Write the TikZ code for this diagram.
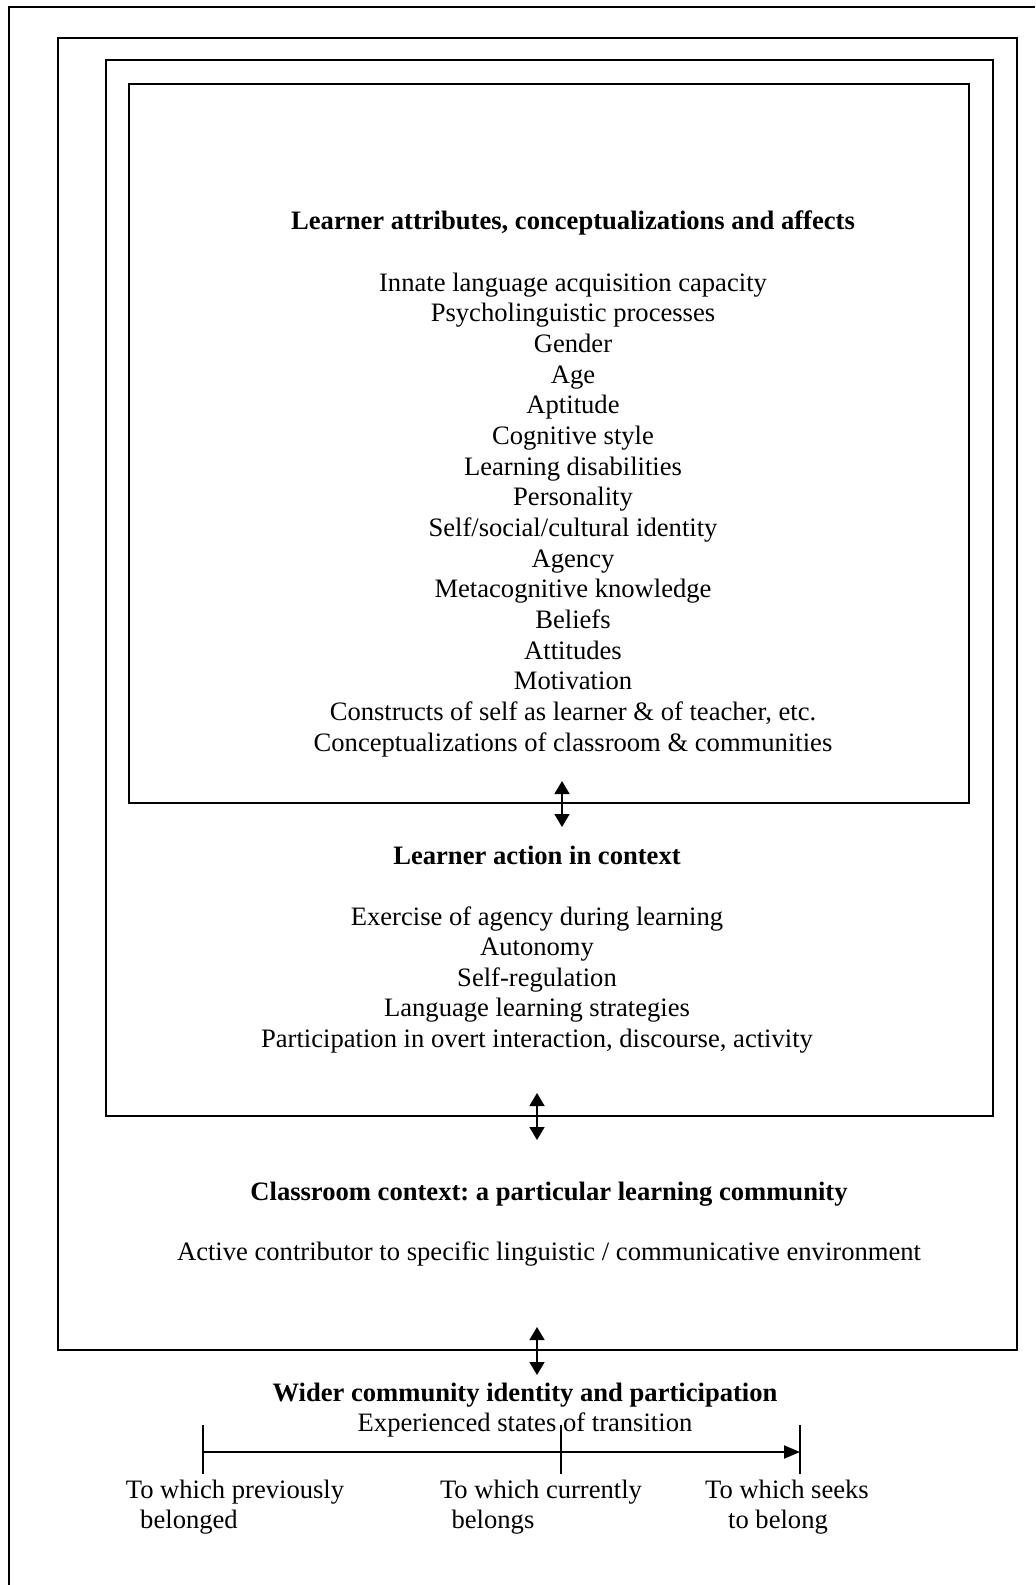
\documentclass[tikz,border=0pt]{standalone}
\usepackage{fontspec}
\setmainfont{Liberation Serif}
\frenchspacing
\usetikzlibrary{arrows.meta}
\begin{document}
\begin{tikzpicture}[x=0.5pt,y=-0.5pt,
  frame/.style={line width=1pt},
  txt/.style={inner sep=0pt,anchor=base,font=\fontsize{13.3pt}{15.3pt}\selectfont},
  head/.style={txt,font=\fontsize{13.3pt}{15.3pt}\selectfont\bfseries},
  dbl/.style={line width=0.8pt,{Triangle[width=7.5pt,length=6.5pt]}-{Triangle[width=7.5pt,length=6.5pt]}},
  tick/.style={line width=0.6pt},
  axis/.style={line width=1pt,-{Triangle[width=6.5pt,length=8pt]}}]
\useasboundingbox (0,0) rectangle (1035,1585);
\fill[white] (0,0) rectangle (1035,1585);

% nested frames
\draw[frame] (9,1585) -- (9,7) -- (1035,7);
\draw[frame] (58,38) rectangle (1017,1350);
\draw[frame] (106,60) rectangle (993,1116);
\draw[frame] (129,84) rectangle (969,803);

% innermost box: attributes
\node[head] (attrT) at (573,229) {Learner attributes, conceptualizations and affects};
\foreach \t [count=\i from 0] in {Innate language acquisition capacity,Psycholinguistic processes,Gender,Age,Aptitude,Cognitive style,Learning disabilities,Personality,Self/social/cultural identity,Agency,Metacognitive knowledge,Beliefs,Attitudes,Motivation,Constructs of self as learner \& of teacher{,} etc.,Conceptualizations of classroom \& communities}
  \node[txt] (attr\i) at (573,291+30.67*\i) {\t};

% learner action
\node[head] (actT) at (537,864) {Learner action in context};
\foreach \t [count=\i from 0] in {Exercise of agency during learning,Autonomy,Self-regulation,Language learning strategies,{Participation in overt interaction, discourse, activity}}
  \node[txt] (act\i) at (537,925+30.5*\i) {\t};

% classroom context
\node[head] (clsT) at (549,1200) {Classroom context: a particular learning community};
\node[txt] (cls0) at (549,1260) {Active contributor to specific linguistic / communicative environment};

% wider community
\node[head] (widT) at (525,1401) {Wider community identity and participation};
\node[txt] (wid0) at (525,1431) {Experienced states of transition};

% links between levels
\coordinate (l1a) at (562,781); \coordinate (l1b) at (562,827);
\coordinate (l2a) at (537,1093); \coordinate (l2b) at (537,1140);
\coordinate (l3a) at (537,1327); \coordinate (l3b) at (537,1375);
\draw[dbl] (l1a) -- (l1b);
\draw[dbl] (l2a) -- (l2b);
\draw[dbl] (l3a) -- (l3b);

% transition scale
\coordinate (p0a) at (203,1425); \coordinate (p0b) at (203,1474);
\coordinate (p1a) at (561,1425); \coordinate (p1b) at (561,1474);
\coordinate (p2a) at (800,1425); \coordinate (p2b) at (800,1474);
\coordinate (s0) at (203,1452); \coordinate (s2) at (800,1452);
\draw[tick] (p0a) -- (p0b);
\draw[tick] (p1a) -- (p1b);
\draw[tick] (p2a) -- (p2b);
\draw[axis] (s0) -- (s2);

\node[txt] (prev1) at (235,1498) {To which previously};
\node[txt] (prev2) at (189,1528) {belonged};
\node[txt] (curr1) at (541,1498) {To which currently};
\node[txt] (curr2) at (493,1528) {belongs};
\node[txt] (seek1) at (787,1498) {To which seeks};
\node[txt] (seek2) at (778,1528) {to belong};
\end{tikzpicture}
\end{document}
